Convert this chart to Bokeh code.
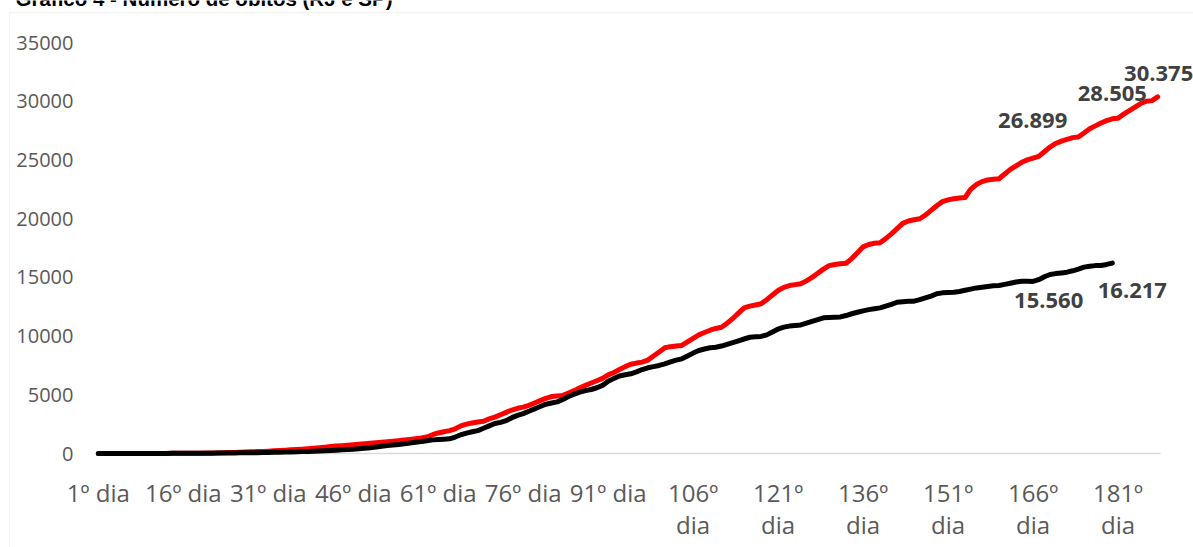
from bokeh.plotting import figure
from bokeh.models import Range1d, FixedTicker, Label, BoxAnnotation
from bokeh.embed import file_html
from bokeh.resources import INLINE

# Óbitos acumulados - SP (vermelho), dias 1..188
sp = [0, 0, 0, 1, 1, 2, 2, 3, 4, 5, 6, 8, 10, 12, 14, 17, 20, 24, 28, 33,
      40, 50, 60, 75, 90, 105, 120, 140, 160, 180,
      200, 225, 250, 280, 310, 340, 370, 410, 450, 490,
      540, 590, 630, 660, 700, 740, 790, 840, 880, 920,
      960, 1000, 1040, 1090, 1150, 1200, 1260, 1320, 1400, 1600,
      1750, 1850, 1950, 2100, 2350, 2500, 2600, 2680, 2750, 2950,
      3100, 3300, 3500, 3700, 3850, 3950, 4100, 4300, 4500, 4700,
      4850, 4900, 4950, 5150, 5350, 5600, 5800, 6000, 6200, 6400,
      6700, 6900, 7150, 7400, 7600, 7700, 7780, 7950, 8300, 8650,
      9000, 9100, 9150, 9200, 9500, 9800, 10100, 10300, 10500, 10650,
      10750, 11100, 11500, 11950, 12400, 12550, 12650, 12750, 13100, 13500,
      13880, 14150, 14300, 14380, 14450, 14700, 15000, 15350, 15700, 16000,
      16100, 16150, 16200, 16600, 17100, 17600, 17800, 17900, 17950, 18300,
      18700, 19150, 19600, 19800, 19900, 19990, 20300, 20700, 21100, 21450,
      21600, 21700, 21750, 21800, 22500, 22900, 23150, 23300, 23350, 23400,
      23800, 24200, 24500, 24800, 25000, 25150, 25300, 25700, 26100, 26400,
      26600, 26750, 26899, 26950, 27300, 27650, 27900, 28150, 28350, 28505,
      28550, 28900, 29200, 29500, 29800, 30000, 30050, 30375]

# Óbitos acumulados - RJ (preto), dias 1..180
rj = [0, 0, 0, 0, 1, 1, 2, 3, 4, 5, 6, 8, 10, 12, 14, 16, 18, 20, 23, 26,
      30, 34, 38, 43, 48, 54, 60, 67, 74, 82,
      90, 100, 110, 122, 135, 150, 165, 180, 198, 218,
      240, 260, 285, 310, 340, 370, 400, 440, 490, 560,
      620, 680, 720, 760, 820, 900, 960, 1020, 1080, 1160,
      1190, 1220, 1250, 1400, 1600, 1730, 1850, 1950, 2150, 2350,
      2550, 2650, 2800, 3050, 3250, 3400, 3600, 3800, 4000, 4200,
      4300, 4400, 4600, 4850, 5050, 5220, 5350, 5450, 5600, 5800,
      6150, 6400, 6600, 6700, 6790, 6950, 7150, 7300, 7400, 7500,
      7640, 7800, 7950, 8060, 8300, 8550, 8770, 8900, 9000, 9050,
      9150, 9300, 9450, 9600, 9750, 9900, 9950, 9970, 10100, 10350,
      10600, 10760, 10850, 10900, 10950, 11100, 11250, 11400, 11560, 11590,
      11610, 11630, 11750, 11900, 12030, 12150, 12250, 12320, 12400, 12550,
      12700, 12880, 12930, 12960, 12970, 13100, 13250, 13400, 13600, 13680,
      13720, 13740, 13800, 13900, 14000, 14100, 14160, 14220, 14280, 14310,
      14400, 14500, 14600, 14670, 14660, 14650, 14800, 15050, 15240, 15320,
      15380, 15440, 15560, 15700, 15870, 15950, 16000, 16010, 16100, 16217]

days_sp = list(range(1, len(sp) + 1))
days_rj = list(range(1, len(rj) + 1))

x_ticks = [1, 16, 31, 46, 61, 76, 91, 106, 121, 136, 151, 166, 181]
x_tick_labels = ["1º dia", "16º dia", "31º dia", "46º dia", "61º dia", "76º dia",
                 "91º dia", "106º\ndia", "121º\ndia", "136º\ndia", "151º\ndia",
                 "166º\ndia", "181º\ndia"]
y_ticks = [0, 5000, 10000, 15000, 20000, 25000, 30000, 35000]
y_tick_labels = ["0", "5000", "10000", "15000", "20000", "25000", "30000", "35000"]

title_text = "Gráfico 4 - Número de óbitos (RJ e SP)"
sp_label_days = [173, 180, 188]
rj_label_days = [173, 180]

# ---- layout (pixels) ----
W, H = 1193, 547
PL, PR, PT, PB = 95, 1160, 42, 453      # plot-area edges
n_cat = len(sp)
cw = (PR - PL) / n_cat
vy = y_ticks[-1] / (PB - PT)
x_range = Range1d(0.5 - PL / cw, 0.5 + (W - PL) / cw)
y_range = Range1d(-(H - PB) * vy, PB * vy)

p = figure(width=W, height=H, output_backend="svg", toolbar_location=None,
           x_range=x_range, y_range=y_range, title=None,
           min_border_left=0, min_border_right=0, min_border_top=0,
           min_border_bottom=0)
p.min_border = 0
p.outline_line_color = None
p.background_fill_color = "white"
p.border_fill_color = "white"
p.xgrid.visible = False
p.ygrid.visible = False

# axes (drawn at the plot-area edges)
p.xaxis.fixed_location = 0
p.yaxis.fixed_location = 0.5
p.xaxis.ticker = FixedTicker(ticks=x_ticks)
p.xaxis.major_label_overrides = dict(zip(x_ticks, x_tick_labels))
p.yaxis.ticker = FixedTicker(ticks=y_ticks)
p.yaxis.major_label_overrides = dict(zip(y_ticks, y_tick_labels))
for ax in (p.xaxis, p.yaxis):
    ax.axis_line_color = None
    ax.major_tick_line_color = None
    ax.minor_tick_line_color = None
    ax.major_tick_out = 0
    ax.major_tick_in = 0
    ax.major_label_text_color = "#595959"
    ax.major_label_text_font = "Open Sans"
p.yaxis.major_label_text_font_size = "20px"
p.yaxis.major_label_standoff = 22
p.xaxis.major_label_text_font_size = "24px"
p.xaxis.major_label_standoff = 22
p.xaxis.major_label_text_line_height = 0.98

# chart border (light gray) and title (cut off at the top, as in the source)
p.add_layout(BoxAnnotation(left=9, right=3000, top=12, bottom=3000,
                           left_units="canvas", right_units="canvas",
                           top_units="canvas", bottom_units="canvas",
                           fill_alpha=0, line_color="#d9d9d9", line_width=1.3,
                           level="underlay"))
p.add_layout(Label(x=15, y=-2, x_units="canvas", y_units="canvas", text=title_text,
                   text_font="Liberation Sans", text_font_style="bold",
                   text_font_size="20.5px", text_color="#000000",
                   text_baseline="alphabetic", text_align="left"))

# baseline at zero across the category span
p.segment(x0=[0.5], y0=[0], x1=[n_cat + 0.5], y1=[0], line_color="#d9d9d9", line_width=1.5)

# series
p.line(days_sp, sp, line_color="#FF0000", line_width=5, line_join="round", line_cap="round")
p.line(days_rj, rj, line_color="#000000", line_width=5, line_join="round", line_cap="round")

def fmt(v):
    return f"{v:,}".replace(",", ".")

sp_offsets = [(-40, 17), (0, 25), (1, 23)]
for d, (dx, dy) in zip(sp_label_days, sp_offsets):
    v = sp[d - 1]
    p.add_layout(Label(x=d, y=v, x_offset=dx, y_offset=dy, text=fmt(v),
                       text_font="Open Sans", text_font_style="bold",
                       text_font_size="22px", text_color="#404040",
                       text_align="center", text_baseline="middle"))
rj_offsets = [(-24, -30), (20, -27)]
for d, (dx, dy) in zip(rj_label_days, rj_offsets):
    v = rj[d - 1]
    p.add_layout(Label(x=d, y=v, x_offset=dx, y_offset=dy, text=fmt(v),
                       text_font="Open Sans", text_font_style="bold",
                       text_font_size="22px", text_color="#404040",
                       text_align="center", text_baseline="middle"))

open("out.html", "w").write(file_html(p, INLINE))
